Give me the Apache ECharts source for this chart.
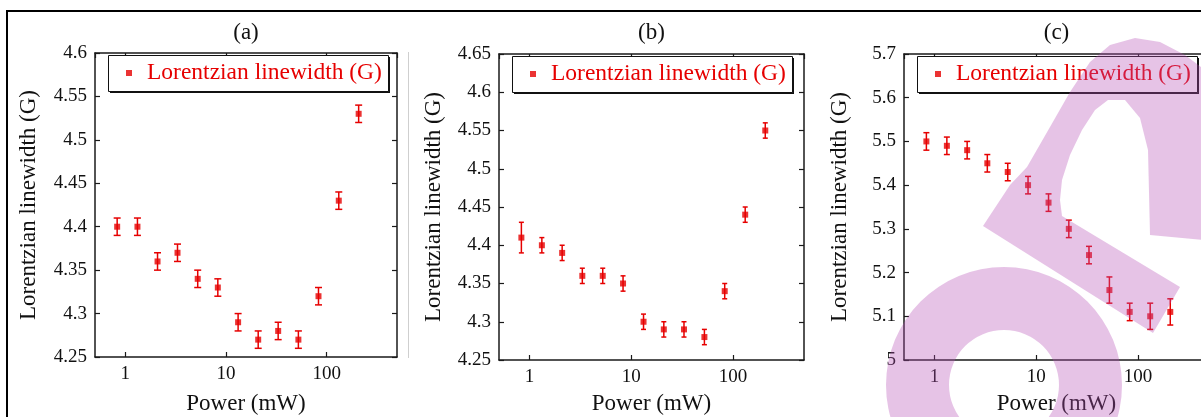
<!DOCTYPE html>
<html><head><meta charset="utf-8">
<script src="https://cdn.jsdelivr.net/npm/echarts@6/dist/echarts.min.js"></script>
<style>html,body{margin:0;padding:0;background:#fff}#c{width:1201px;height:417px}</style>
</head><body><div id="c"></div>
<script>
// ---------- data ----------
const power = [0.83, 1.32, 2.09, 3.3, 5.24, 8.3, 13.2, 20.9, 33, 52.4, 83, 132, 208];
const panelTitles = ['(a)', '(b)', '(c)'];
const seriesName = 'Lorentzian linewidth (G)';
const xAxisName = 'Power (mW)';
const valuesA = [4.40, 4.40, 4.36, 4.37, 4.34, 4.33, 4.29, 4.27, 4.28, 4.27, 4.32, 4.43, 4.53];
const errorsA = [0.01, 0.01, 0.01, 0.01, 0.01, 0.01, 0.01, 0.01, 0.01, 0.01, 0.01, 0.01, 0.01];
const valuesB = [4.41, 4.40, 4.39, 4.36, 4.36, 4.35, 4.30, 4.29, 4.29, 4.28, 4.34, 4.44, 4.55];
const errorsB = [0.02, 0.01, 0.01, 0.01, 0.01, 0.01, 0.01, 0.01, 0.01, 0.01, 0.01, 0.01, 0.01];
const valuesC = [5.50, 5.49, 5.48, 5.45, 5.43, 5.40, 5.36, 5.30, 5.24, 5.16, 5.11, 5.10, 5.11];
const errorsC = [0.02, 0.02, 0.02, 0.02, 0.02, 0.02, 0.02, 0.02, 0.02, 0.03, 0.02, 0.03, 0.03];
const xRange = [0.5, 500];
const yRangeA = [4.25, 4.6, 0.05];
const yRangeB = [4.25, 4.65, 0.05];
const yRangeC = [5.0, 5.7, 0.1];

// ---------- layout / style ----------
const FONT = '"Liberation Serif", "Times New Roman", serif';
const RED = '#e60000';
const AX = '#1a1a1a';
const TXT = '#111';
const grids = [
  {left: 95, top: 53, width: 302, height: 304},
  {left: 499, top: 54, width: 305, height: 306},
  {left: 904, top: 54, width: 305, height: 306}
];
const nameGaps = [55, 54, 53];
const xNameGaps = [35, 32, 32];
const capHalf = [3.5, 2.5, 3];
const panels = [
  {vals: valuesA, errs: errorsA, yr: yRangeA},
  {vals: valuesB, errs: errorsB, yr: yRangeB},
  {vals: valuesC, errs: errorsC, yr: yRangeC}
];

const xAxis = [], yAxis = [], series = [], legend = [], graphic = [];
const axisLine = {show: true, onZero: false, lineStyle: {color: AX, width: 1.5}};
const axisTick = {show: true, inside: true, length: 5, lineStyle: {color: AX, width: 1.2}};
const labelStyle = {color: TXT, fontFamily: FONT, fontSize: 19};
const nameStyle = {color: TXT, fontFamily: FONT, fontSize: 23};

panels.forEach((p, i) => {
  const g = grids[i];
  xAxis.push({
    type: 'log', logBase: 10, gridIndex: i, min: xRange[0], max: xRange[1], position: 'bottom',
    axisLine, axisTick, splitLine: {show: false}, minorTick: {show: false},
    axisLabel: Object.assign({margin: 8, showMinLabel: false, showMaxLabel: false}, labelStyle),
    name: xAxisName, nameLocation: 'middle', nameGap: xNameGaps[i], nameTextStyle: nameStyle
  });
  xAxis.push({
    type: 'log', logBase: 10, gridIndex: i, min: xRange[0], max: xRange[1], position: 'top',
    axisLine, axisTick, splitLine: {show: false}, axisLabel: {show: false}
  });
  yAxis.push({
    type: 'value', gridIndex: i, min: p.yr[0], max: p.yr[1], interval: p.yr[2], position: 'left',
    axisLine, axisTick, splitLine: {show: false},
    axisLabel: Object.assign({margin: 8}, labelStyle),
    name: seriesName, nameLocation: 'middle', nameRotate: 90, nameGap: nameGaps[i], nameTextStyle: nameStyle
  });
  yAxis.push({
    type: 'value', gridIndex: i, min: p.yr[0], max: p.yr[1], interval: p.yr[2], position: 'right',
    axisLine, axisTick, splitLine: {show: false}, axisLabel: {show: false}
  });
  const hw = capHalf[i];
  series.push({
    type: 'custom', xAxisIndex: 2 * i, yAxisIndex: 2 * i, silent: true, z: 2,
    data: power.map((x, k) => [x, p.vals[k], p.errs[k]]),
    encode: {x: 0, y: 1},
    renderItem: function (params, api) {
      const x = api.value(0), y = api.value(1), e = api.value(2);
      const t = api.coord([x, y + e]);
      const b = api.coord([x, y - e]);
      const st = {stroke: RED, lineWidth: 1.5};
      return {type: 'group', children: [
        {type: 'line', shape: {x1: t[0], y1: t[1], x2: b[0], y2: b[1]}, style: st},
        {type: 'line', shape: {x1: t[0] - hw, y1: t[1], x2: t[0] + hw, y2: t[1]}, style: st},
        {type: 'line', shape: {x1: b[0] - hw, y1: b[1], x2: b[0] + hw, y2: b[1]}, style: st}
      ]};
    }
  });
  series.push({
    type: 'scatter', name: seriesName, xAxisIndex: 2 * i, yAxisIndex: 2 * i, z: 3,
    symbol: 'rect', symbolSize: 6, itemStyle: {color: RED},
    data: power.map((x, k) => [x, p.vals[k]])
  });
  // legend frame with hard drop shadow
  const bx = g.left + 13, by = g.top + 2, bw = 280, bh = 36;
  graphic.push({type: 'rect', z: 5, silent: true, shape: {x: bx + 2, y: by + 2, width: bw, height: bh}, style: {fill: '#111'}});
  graphic.push({type: 'rect', z: 5, silent: true, shape: {x: bx + 0.5, y: by + 0.5, width: bw, height: bh}, style: {fill: '#fff', stroke: '#111', lineWidth: 1}});
  legend.push({
    left: bx, top: by + 6, z: 20, orient: 'horizontal',
    data: [{name: seriesName, icon: 'rect'}], selectedMode: false,
    itemWidth: 6, itemHeight: 6, padding: [0, 0, 0, 18],
    textStyle: {color: RED, fontFamily: FONT, fontSize: 23.5, padding: [0, 0, 0, 10]}
  });
  graphic.push({
    type: 'text', x: g.left + g.width / 2, y: 33, z: 10,
    style: {text: panelTitles[i], font: '23px "Liberation Serif"', fill: TXT, align: 'center', verticalAlign: 'middle'}
  });
});

graphic.push({type: 'rect', z: 10, silent: true, shape: {x: 7, y: 11, width: 1400, height: 600}, style: {fill: 'none', stroke: '#000', lineWidth: 2}});
graphic.push({type: 'line', z: 10, silent: true, shape: {x1: 408.5, y1: 52, x2: 408.5, y2: 358}, style: {stroke: '#cfcfcf', lineWidth: 1}});

// watermark (decorative overlay)
const WM = 'rgba(182,80,182,0.34)';
graphic.push({type: 'ring', z: 100, silent: true, shape: {cx: 1004, cy: 385, r: 118, r0: 55}, style: {fill: WM}});
graphic.push({type: 'polygon', z: 100, silent: true, shape: {points: [
  [983, 226], [1010, 185], [1027, 167], [1050, 127], [1070, 92], [1090, 62], [1110, 45], [1135, 38],
  [1160, 42], [1185, 55], [1205, 70], [1205, 240], [1150, 235], [1148, 150], [1140, 118], [1125, 100],
  [1108, 100], [1095, 110], [1082, 130], [1070, 155], [1062, 180], [1060, 200], [1062, 216],
  [1180, 287], [1153, 333]
]}, style: {fill: WM}});

const chart = echarts.init(document.getElementById('c'), null, {renderer: 'canvas'});
chart.setOption({
  animation: false,
  backgroundColor: '#fff',
  textStyle: {fontFamily: FONT},
  grid: grids.map(g => Object.assign({containLabel: false, outerBoundsMode: 'none'}, g)),
  legend, xAxis, yAxis, series, graphic
});
</script></body></html>
